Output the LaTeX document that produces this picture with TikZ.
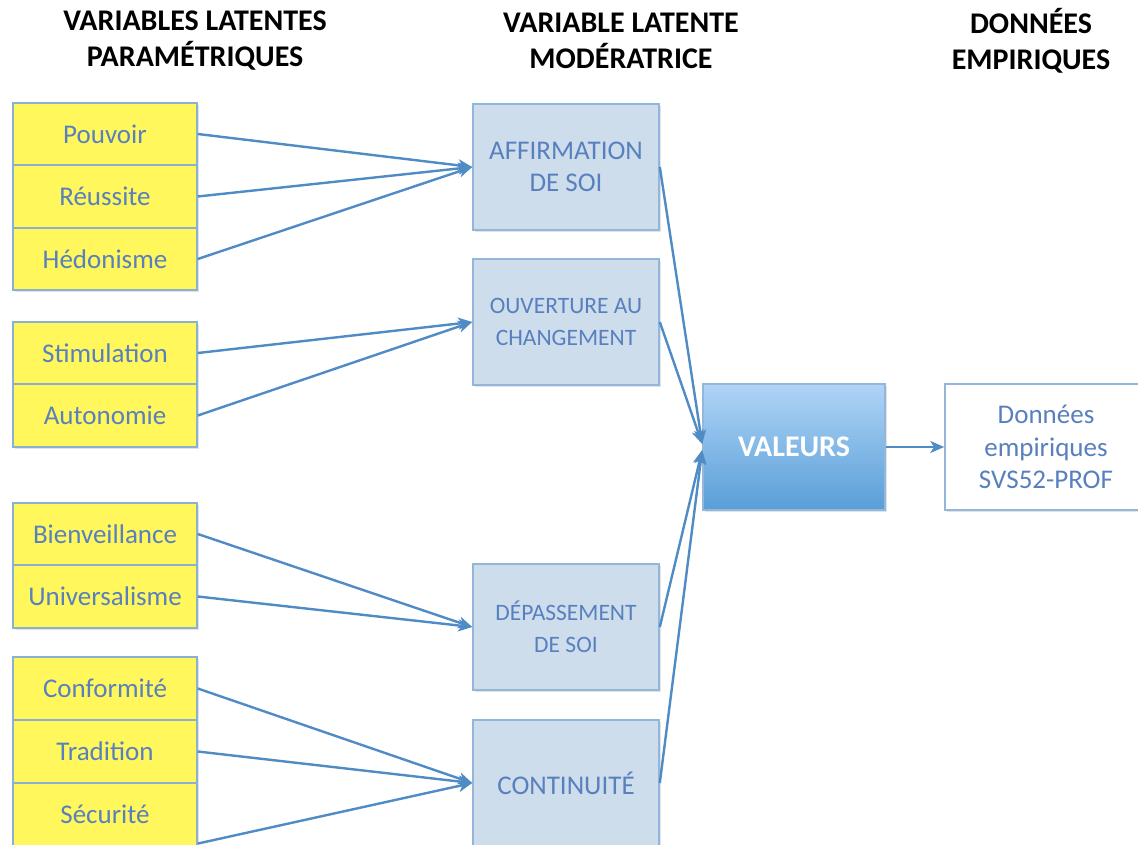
\documentclass[tikz,border=0pt]{standalone}
\usepackage{fontspec}
\setmainfont{Carlito}
\usetikzlibrary{arrows.meta,shadows}

\definecolor{paramfill}{HTML}{FFF75C}
\definecolor{paramline}{HTML}{8CB0D2}
\definecolor{modfill}{HTML}{CDDDEC}
\definecolor{modline}{HTML}{93B7DB}
\definecolor{labeltext}{HTML}{5880BE}
\definecolor{linkcol}{HTML}{4F8BC4}
\definecolor{valtop}{HTML}{B0D4F6}
\definecolor{valbottom}{HTML}{589ED8}

\tikzset{
  boxshadow/.style={drop shadow={opacity=0.22, shadow xshift=1.5pt, shadow yshift=-2pt}},
  parambox/.style={draw=paramline, line width=1.6pt, fill=paramfill, boxshadow,
    minimum width=184pt, minimum height=62.5pt, inner sep=0pt,
    text=labeltext, font=\fontsize{27}{32}\selectfont},
  modbox/.style={draw=modline, line width=1.6pt, fill=modfill, boxshadow,
    minimum width=186pt, minimum height=126pt, inner sep=0pt, align=center,
    text=labeltext, font=\fontsize{23.5}{32}\selectfont},
  valbox/.style={draw=modline, line width=1.6pt, top color=valtop, bottom color=valbottom,
    boxshadow, minimum width=182pt, minimum height=126pt, inner sep=0pt,
    text=white, font=\bfseries\fontsize{30}{32}\selectfont},
  databox/.style={draw=modline, line width=1.6pt, fill=white, boxshadow,
    minimum width=202pt, minimum height=126pt, inner sep=0pt, align=center,
    text=labeltext, font=\fontsize{27}{32.5}\selectfont},
  header/.style={align=center, inner sep=0pt, text=black,
    font=\bfseries\fontsize{30}{36}\selectfont},
  link/.style={draw=linkcol, line width=2.4pt,
    -{Stealth[length=14pt, width=12pt, inset=4pt]}},
}

\begin{document}
\begin{tikzpicture}[x=1pt, y=-1pt]
\useasboundingbox (0,0) rectangle (1138,845);
\clip (0,0) rectangle (1138,845);

% column headers
\node[header] (h1) at (195,41) {VARIABLES LATENTES\\PARAMÉTRIQUES};
\node[header] (h2) at (621,41) {VARIABLE LATENTE\\MODÉRATRICE};
\node[header] (h3) at (1031,41) {DONNÉES\\EMPIRIQUES};

% parametric latent variables
\node[parambox] (pouv) at (105,134) {Pouvoir};
\node[parambox] (reus) at (105,196.5) {Réussite};
\node[parambox] (hedo) at (105,259) {Hédonisme};

\node[parambox] (stim) at (105,353) {Stimulation};
\node[parambox] (auto) at (105,415.5) {Autonomie};

\node[parambox] (bien) at (105,534) {Bienveillance};
\node[parambox] (univ) at (105,596.5) {Universalisme};

\node[parambox] (conf) at (105,688.5) {Conformité};
\node[parambox] (trad) at (105,751.5) {Tradition};
\node[parambox] (secu) at (105,814.5) {Sécurité};

% moderating latent variables
\node[modbox, font=\fontsize{27}{32}\selectfont] (aff) at (566,167) {AFFIRMATION\\DE SOI};
\node[modbox] (ouv) at (566,322) {OUVERTURE AU\\CHANGEMENT};
\node[modbox] (dep) at (566,627) {DÉPASSEMENT\\DE SOI};
\node[modbox, font=\fontsize{27}{32}\selectfont] (cont) at (566,783) {CONTINUITÉ};

% values and empirical data
\node[valbox] (val) at (794,447) {VALEURS};
\node[databox] (don) at (1046,447) {Données\\empiriques\\SVS52-PROF};

% links into the moderating variables
\draw[link] (pouv.east) -- (aff.west);
\draw[link] (reus.east) -- (aff.west);
\draw[link] (hedo.east) -- (aff.west);

\draw[link] (stim.east) -- (ouv.west);
\draw[link] (auto.east) -- (ouv.west);

\draw[link] (bien.east) -- (dep.west);
\draw[link] (univ.east) -- (dep.west);

\draw[link] (conf.east) -- (cont.west);
\draw[link] (trad.east) -- (cont.west);
\draw[link] ([yshift=3pt]secu.south east) -- (cont.west);

% links into the values
\draw[link] (aff.east) -- ([yshift=3pt]val.west);
\draw[link] (ouv.east) -- ([yshift=3pt]val.west);
\draw[link] (dep.east) -- ([yshift=-3pt]val.west);
\draw[link] (cont.east) -- ([yshift=-3pt]val.west);

\draw[link] (val.east) -- (don.west);
\end{tikzpicture}
\end{document}
